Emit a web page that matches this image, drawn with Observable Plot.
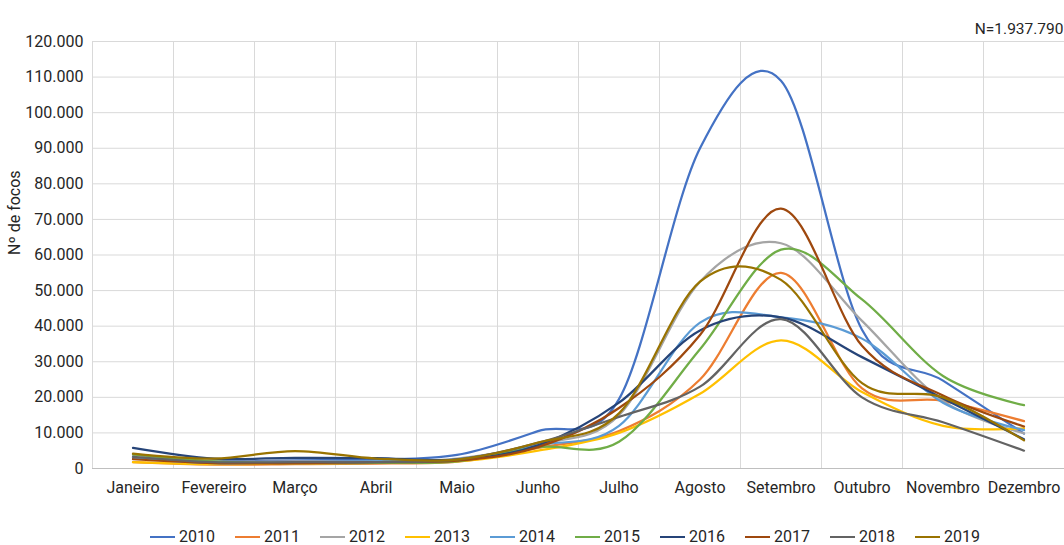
<!DOCTYPE html>
<html>
<head>
<meta charset="utf-8">
<script src="https://cdn.jsdelivr.net/npm/d3@7"></script>
<script src="https://cdn.jsdelivr.net/npm/@observablehq/plot@0.6"></script>
<style>
  html, body { margin: 0; padding: 0; background: #fff; }
  #wrap { position: relative; width: 1064px; height: 545px; overflow: hidden; font-family: Roboto, "Open Sans", sans-serif; }
  #legend { position: absolute; top: 529px; left: 150px; display: flex; font-size: 16px; line-height: 15px; color: #262626; }
  .item { width: 85px; display: flex; align-items: center; }
  .sw { width: 25px; height: 2px; margin-right: 4px; }
</style>
</head>
<body>
<div id="wrap"><div id="chart"></div><div id="legend"></div></div>
<script>
const months = ["Janeiro","Fevereiro","Março","Abril","Maio","Junho","Julho","Agosto","Setembro","Outubro","Novembro","Dezembro"];
const years = ["2010","2011","2012","2013","2014","2015","2016","2017","2018","2019"];
const colors = ["#4472C4","#ED7D31","#A5A5A5","#FFC000","#5B9BD5","#70AD47","#264478","#9E480E","#636363","#997300"];
const yTicks = [0,10000,20000,30000,40000,50000,60000,70000,80000,90000,100000,110000,120000];
const yLabel = "Nº de focos";
const totalLabel = "N=1.937.790";

const s2010 = [3000, 2000, 2300, 2500, 3800, 10500, 19500, 90000, 109000, 39000, 24700, 9800];
const s2011 = [1800, 1100, 1200, 1400, 1900, 5800, 10500, 25000, 55000, 22500, 19000, 13300];
const s2012 = [3800, 2000, 2000, 2000, 2800, 6800, 15000, 52500, 63300, 41500, 19000, 9900];
const s2013 = [1800, 1200, 1500, 1600, 2000, 5000, 10000, 21000, 36000, 21500, 12000, 11300];
const s2014 = [3000, 1500, 1800, 2000, 2600, 6500, 12000, 41000, 42500, 36500, 18500, 10800];
const s2015 = [4000, 2000, 1500, 1600, 2000, 6000, 7500, 33500, 61500, 47500, 26000, 17800];
const s2016 = [5800, 2800, 3000, 2900, 2500, 6500, 18500, 38800, 42500, 31300, 19700, 8200];
const s2017 = [2600, 1500, 1500, 1800, 2200, 6000, 17000, 37500, 73000, 34500, 20500, 11800];
const s2018 = [3300, 1800, 1800, 1800, 2500, 7200, 14500, 23000, 42000, 20000, 13000, 5000];
const s2019 = [4200, 2800, 4900, 2800, 2500, 7300, 15500, 52500, 53000, 24000, 20000, 7900];
const series = [s2010, s2011, s2012, s2013, s2014, s2015, s2016, s2017, s2018, s2019];

const rows = [];
years.forEach((yr, i) => series[i].forEach((v, j) => rows.push({year: yr, month: j, value: v})));

const fmt = d3.formatLocale({decimal: ",", thousands: ".", grouping: [3], currency: ["", ""]}).format(",");
const monthIdx = months.map((_, i) => i);
const boundaries = months.map((_, i) => i - 0.5).concat([months.length - 0.5]);
const FONT = "Roboto, Open Sans, sans-serif";

const chart = Plot.plot({
  width: 1064,
  height: 520,
  marginLeft: 92,
  marginRight: 0,
  marginTop: 41,
  marginBottom: 52,
  style: {fontFamily: FONT, fontSize: "16px", color: "#262626", background: "white", overflow: "visible"},
  x: {domain: [-0.5, months.length - 0.5], axis: null},
  y: {domain: [0, 120000], axis: null},
  color: {domain: years, range: colors},
  marks: [
    Plot.gridY(yTicks, {stroke: "#d9d9d9", strokeOpacity: 1, strokeWidth: 1}),
    Plot.gridX(boundaries, {stroke: "#d9d9d9", strokeOpacity: 1, strokeWidth: 1}),
    Plot.ruleY([0], {stroke: "#bfbfbf"}),
    Plot.axisY(yTicks, {tickSize: 0, tickPadding: 9, tickFormat: fmt, label: null, fontSize: 16}),
    Plot.axisX(monthIdx, {tickSize: 0, tickPadding: 13, tickFormat: i => months[i], label: null, fontSize: 16}),
    Plot.text([yLabel], {frameAnchor: "left", rotate: -90, dx: -78, fontSize: 16, fill: "#262626"}),
    Plot.text([totalLabel], {frameAnchor: "top-right", textAnchor: "end", dy: -19, dx: -1, fontSize: 15.5, fill: "#262626"}),
    Plot.line(rows, {x: "month", y: "value", z: "year", stroke: "year", strokeWidth: 2.25, curve: "cardinal", tension: 0})
  ]
});
document.getElementById("chart").appendChild(chart);

const legend = document.getElementById("legend");
years.forEach((yr, i) => {
  const it = document.createElement("div");
  it.className = "item";
  const sw = document.createElement("span");
  sw.className = "sw";
  sw.style.background = colors[i];
  const tx = document.createElement("span");
  tx.textContent = yr;
  it.appendChild(sw);
  it.appendChild(tx);
  legend.appendChild(it);
});
</script>
</body>
</html>
